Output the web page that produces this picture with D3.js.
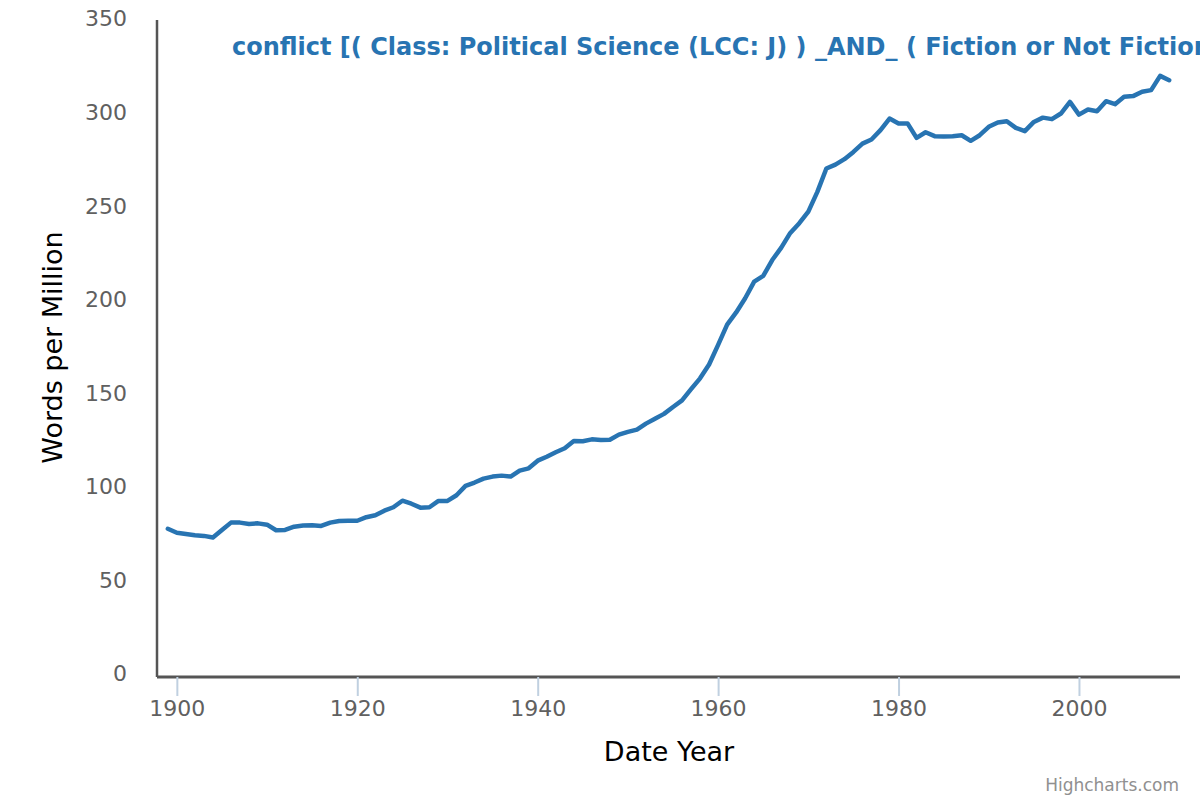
<!DOCTYPE html>
<html>
<head>
<meta charset="utf-8">
<script src="https://cdn.jsdelivr.net/npm/d3@7"></script>
<style>
  body { margin: 0; background: #fff; }
  svg { display: block; }
</style>
</head>
<body>
<div id="chart"></div>
<script>
var width = 1200, height = 800
var margin = {top: 22, right: 20, bottom: 123, left: 157}

var chartTitle = "conflict [( Class: Political Science (LCC: J) ) _AND_ ( Fiction or Not Fiction"
var xTitle = "Date Year"
var yTitle = "Words per Million"
var credit = "Highcharts.com"

var years = d3.range(1899, 2011)
var wpm = [
    79.2, 77.1, 76.4, 75.7, 75.4, 74.5, 78.5, 82.5, 82.5, 81.8,
    82.1, 81.4, 78.4, 78.6, 80.3, 80.9, 81.1, 80.7, 82.5, 83.4,
    83.5, 83.5, 85.4, 86.4, 88.9, 90.7, 94.2, 92.6, 90.5, 90.7,
    94.1, 94.1, 97.1, 102.1, 103.9, 106.0, 107.1, 107.6, 107.1, 110.3,
    111.5, 115.6, 117.7, 120.1, 122.2, 126.1, 126.0, 127.0, 126.7, 126.8,
    129.5, 131.0, 132.2, 135.4, 138.0, 140.6, 144.3, 147.8, 153.8, 159.6,
    167.0, 177.5, 188.3, 194.8, 202.4, 211.3, 214.3, 222.8, 229.4, 237.3,
    242.5, 248.7, 259.2, 271.7, 273.8, 276.7, 280.6, 285.0, 287.2, 292.2,
    298.4, 295.8, 295.8, 288.1, 291.1, 289.0, 288.8, 289.0, 289.5, 286.5,
    289.5, 294.0, 296.3, 297.0, 293.4, 291.7, 296.6, 298.9, 298.1, 301.1,
    307.3, 300.5, 303.2, 302.3, 307.7, 306.1, 310.0, 310.4, 312.7, 313.6,
    321.2, 318.9
]
var xTicks = [1900, 1920, 1940, 1960, 1980, 2000]
var yTicks = [0, 50, 100, 150, 200, 250, 300, 350]

var data = years.map((y, i) => ({year: y, v: wpm[i]}))

var svg = d3.select("#chart").append("svg")
    .attr("width", width)
    .attr("height", height)

var x = d3.scaleLinear()
    .domain([1897.8, 2011.2])
    .range([margin.left, width - margin.right])
var y = d3.scaleLinear()
    .domain([0, 350])
    .range([height - margin.bottom, margin.top])

var font = "'DejaVu Sans', Verdana, sans-serif"

// x axis
var xAxis = svg.append("g")
    .attr("transform", `translate(0, ${y(0)})`)
    .call(d3.axisBottom(x).tickValues(xTicks).tickFormat(d3.format("d")).tickSize(19).tickPadding(4))
xAxis.select(".domain")
    .attr("d", `M${x.range()[0]},0H${x.range()[1]}`)
    .attr("stroke", "#555").attr("stroke-width", 3)
xAxis.selectAll(".tick line").attr("stroke", "#C0D0E0").attr("stroke-width", 2)
xAxis.selectAll(".tick text")
    .attr("fill", "#606060")
    .style("font-family", font)
    .style("font-size", "22px")

// y axis
var yAxis = svg.append("g")
    .attr("transform", `translate(${margin.left}, 0)`)
    .call(d3.axisLeft(y).tickValues(yTicks).tickSize(0).tickPadding(30))
yAxis.select(".domain")
    .attr("d", `M0,${y(350) - 2}V${y(0)}`)
    .attr("stroke", "#555").attr("stroke-width", 2.5)
yAxis.selectAll(".tick text")
    .attr("fill", "#606060")
    .attr("dy", "0.18em")
    .style("font-family", font)
    .style("font-size", "22px")

// the series
svg.append("path")
    .datum(data)
    .attr("fill", "none")
    .attr("stroke", "#2874b2")
    .attr("stroke-width", 4.5)
    .attr("stroke-linejoin", "round")
    .attr("stroke-linecap", "round")
    .attr("d", d3.line().x(d => x(d.year)).y(d => y(d.v)))

// titles
svg.append("text")
    .attr("x", 232)
    .attr("y", 55)
    .attr("fill", "#2874b2")
    .style("font-family", font)
    .style("font-weight", "bold")
    .style("font-size", "24px")
    .text(chartTitle)

svg.append("text")
    .attr("x", 669)
    .attr("y", 761)
    .attr("text-anchor", "middle")
    .attr("fill", "#000")
    .style("font-family", font)
    .style("font-size", "27px")
    .text(xTitle)

svg.append("text")
    .attr("transform", `translate(62, ${(y(0) + y(350)) / 2 - 2}) rotate(-90)`)
    .attr("text-anchor", "middle")
    .attr("fill", "#000")
    .style("font-family", font)
    .style("font-size", "27px")
    .text(yTitle)

svg.append("text")
    .attr("x", 1179)
    .attr("y", 791)
    .attr("text-anchor", "end")
    .attr("fill", "#909090")
    .style("font-family", font)
    .style("font-size", "17px")
    .text(credit)
</script>
</body>
</html>
